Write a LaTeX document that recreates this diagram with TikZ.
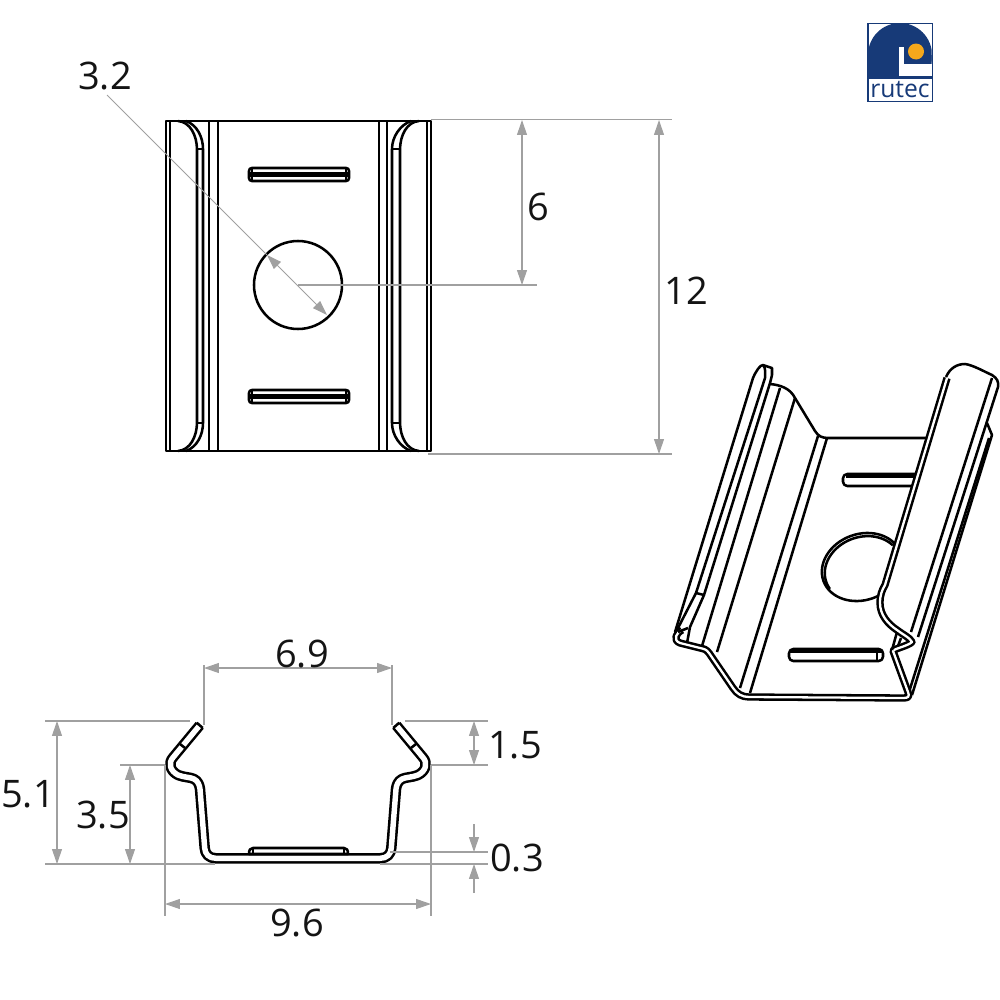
\documentclass[tikz,border=0pt]{standalone}
\usepackage{fontspec}
\setmainfont{Open Sans}
\usetikzlibrary{arrows.meta}
\definecolor{dimgray}{HTML}{A0A0A0}
\definecolor{rutecblue}{HTML}{173A78}
\definecolor{rutecorange}{HTML}{F5A81C}
\tikzset{
  part/.style={black,line width=0.72pt,line join=round},
  strip/.style={part,double=white,double distance=1.55pt},
  thinstrip/.style={part,double=white,double distance=0.65pt},
  dimline/.style={dimgray,line width=0.3pt},
  dimarrow/.style={dimline,{Triangle[length=4.2pt,width=2.8pt]}-{Triangle[length=4.2pt,width=2.8pt]}},
  dimend/.style={dimline,-{Triangle[length=4.2pt,width=2.8pt]}},
  dimtext/.style={text=black!92,font=\fontsize{10.8}{13}\selectfont,inner sep=0pt}
}
\begin{document}
\begin{tikzpicture}[x=0.01cm,y=-0.01cm]
\useasboundingbox (0,0) rectangle (1000,1000);

% top view
\draw[part] (166,121) rectangle (431,451);
\foreach \xpos in {170,209,218,379,387,427}
  \draw[part] (\xpos,121) -- (\xpos,451);
\draw[part] (178,121) .. controls (190,122) and (197,135) .. (197,150) -- (197,422) .. controls (197,437) and (190,450) .. (178,451);
\draw[part] (186,121) .. controls (197,125) and (203,137) .. (203,149) -- (203,423) .. controls (203,435) and (197,447) .. (186,451);
\draw[part] (197,149) -- (203,149) (197,423) -- (203,423);
\draw[part] (419,121) .. controls (407,122) and (400,135) .. (400,150) -- (400,422) .. controls (400,437) and (407,450) .. (419,451);
\draw[part] (411,121) .. controls (400,125) and (392,137) .. (392,149) -- (392,423) .. controls (392,435) and (400,447) .. (411,451);
\draw[part] (392,149) -- (400,149) (392,423) -- (400,423);
\foreach \ypos in {168,390} {
  \draw[part,rounded corners=0.8pt] (249,\ypos) rectangle (349,\ypos+13);
  \draw[part] (252,\ypos) -- (252,\ypos+13) (346,\ypos) -- (346,\ypos+13);
  \draw[part] (250,\ypos+5) -- (348,\ypos+5) (250,\ypos+7.5) -- (348,\ypos+7.5);
}
\draw[part] (298,285) circle (44);

% top view dimensions
\draw[dimline] (107,95) -- (267,255);
\draw[dimarrow] (267,255) -- (327,315);
\draw[dimline] (298,285) -- (537,285);
\draw[dimline] (431,119.5) -- (672,119.5);
\draw[dimline] (428,454) -- (672,454);
\draw[dimarrow] (522,120) -- (522,285);
\draw[dimarrow] (659,120) -- (659,454);
\node[dimtext] (dia) at (105,76) {3.2};
\node[dimtext] (half) at (538,207) {6};
\node[dimtext] (full) at (686,291) {12};

% logo
\fill[rutecblue] (867,22.5) rectangle (933,102);
\fill[white] (868.5,24) rectangle (931.5,76);
\fill[white] (868.5,79) rectangle (931.5,100.5);
\begin{scope}
\clip (868.5,24) rectangle (931.5,76);
\fill[rutecblue] (900,55) circle (32);
\fill[rutecblue] (868,55) rectangle (899,76);
\fill[rutecblue] (899,55) rectangle (932,63.5);
\fill[white] (899,47) rectangle (903.5,66);
\fill[white] (899,63.5) rectangle (932,76);
\end{scope}
\fill[rutecorange] (916,51.5) circle (8);
\node[text=rutecblue,font=\fontsize{7}{8}\selectfont,inner sep=0pt] (logo) at (900,90) {rutec};

% end view
\draw[strip] (199.7,725.3) -- (173,757.5) .. controls (168,763) and (170,771) .. (178,775) .. controls (184,777.5) and (190,777) .. (194,779) .. controls (198,781) and (199.5,785) .. (200,789) -- (204.7,848) .. controls (205,854) and (209,858.3) .. (216,858.3) -- (380,858.3) .. controls (387,858.3) and (391,854) .. (391.3,848) -- (396,789) .. controls (396.5,785) and (398,781) .. (402,779) .. controls (406,777) and (412,777.5) .. (418,775) .. controls (426,771) and (428,763) .. (423,757.5) -- (396.3,725.3);
\draw[part] (196.7,722.7) -- (202.7,727.9) (393.3,727.9) -- (399.3,722.7);
\draw[part] (180,744) -- (185,748) (411,748) -- (416,744);
\draw[part,fill=white] (249,854) .. controls (249,850) and (250,848) .. (253,848) -- (344,848) .. controls (347,848) and (348,850) .. (348,854) -- cycle;
\draw[part] (253,848) -- (253,854) (344,848) -- (344,854);

% end view dimensions
\draw[dimline] (204,665) -- (204,725);
\draw[dimline] (392,665) -- (392,725);
\draw[dimarrow] (204,668) -- (392,668);
\draw[dimline] (45,721) -- (190,721);
\draw[dimline] (120,765) -- (165,765);
\draw[dimline] (45,864) -- (215,864);
\draw[dimarrow] (57,721) -- (57,864);
\draw[dimarrow] (130,765) -- (130,864);
\draw[dimline] (405,721) -- (488,721);
\draw[dimline] (431,765) -- (488,765);
\draw[dimarrow] (474,721) -- (474,765);
\draw[dimline] (390,852) -- (488,852);
\draw[dimline] (380,864) -- (488,864);
\draw[dimend] (474,824) -- (474,852);
\draw[dimend] (474,893) -- (474,864);
\draw[dimline] (165,765) -- (165,916);
\draw[dimline] (431,765) -- (431,916);
\draw[dimarrow] (165,904) -- (431,904);
\node[dimtext] (gap) at (302,654) {6.9};
\node[dimtext] (lip) at (515,745) {1.5};
\node[dimtext] (high) at (28,794) {5.1};
\node[dimtext] (wall) at (103,815) {3.5};
\node[dimtext] (thick) at (517,858) {0.3};
\node[dimtext] (wide) at (297,923) {9.6};

% perspective view
\draw[part] (675,632) -- (753,378) .. controls (756,371) and (760,365) .. (763,365) -- (772,368) -- (772,375) -- (770,383);
\draw[part] (763,365) .. controls (766,368) and (765,373) .. (765,378) -- (696,593) -- (677,630);
\draw[part] (770,383) -- (704,595) -- (690,627) -- (687,643);
\draw[part] (696,593) -- (704,595);
\draw[part] (770,384) .. controls (780,385) and (790,388) .. (795,398) -- (815,431) .. controls (818,436) and (822,438) .. (828,438) -- (927,438);
\draw[part] (780,388) -- (702,646);
\draw[part] (795,398) -- (717,652);
\draw[part] (818,436) -- (740,688);
\draw[part] (827,438) -- (750,693);
\draw[part,rounded corners=1.2pt] (916,474) -- (843,474) -- (843,486) -- (912,486);
\draw[part] (846,476.5) -- (915,476.5);
\draw[part,rounded corners=1.2pt] (883,649) rectangle (789,661);
\draw[part] (790,651.5) -- (882,651.5) (877,649) -- (877,661);
\begin{scope}
\clip (800,520) -- (904,520) -- (880,600) -- (880,620) -- (800,620) -- cycle;
\draw[part] (862,567) ellipse[x radius=41,y radius=33,rotate=20];
\end{scope}
\begin{scope}
\clip (800,520) -- (902,520) -- (895,545) -- (840,560) -- (830,590) -- (800,590) -- cycle;
\draw[part] (863,569) ellipse[x radius=39,y radius=32,rotate=20];
\end{scope}
\draw[part] (946,377) .. controls (950,368) and (957,364) .. (965,364) .. controls (973,365) and (985,372) .. (992,375) .. controls (997,378) and (999,382) .. (998,387) -- (918,637);
\draw[part] (992,378) -- (911,632);
\draw[part] (987,423) -- (992,435) -- (912,695);
\draw[part] (989,438) -- (909,692);
\draw[thinstrip] (682,630) .. controls (677,632) and (672,640) .. (680,643) -- (700,648) .. controls (704,649) and (706,649) .. (709,653) -- (733,688) .. controls (737,694) and (742,697) .. (749,697) -- (903,698) .. controls (908,698) and (910,697) .. (908,692) -- (893,651) .. controls (893,649) and (908,646) .. (912,642) .. controls (909,637) and (905,636) .. (897,630) .. controls (888,624) and (880,615) .. (880,603) .. controls (880,595) and (882,590) .. (885,585) -- (947,378);
\draw[part] (678,632) -- (688,628);
\draw[part] (897,632) -- (892,650);
\draw[part] (901,638) -- (898,646);
\end{tikzpicture}
\end{document}
